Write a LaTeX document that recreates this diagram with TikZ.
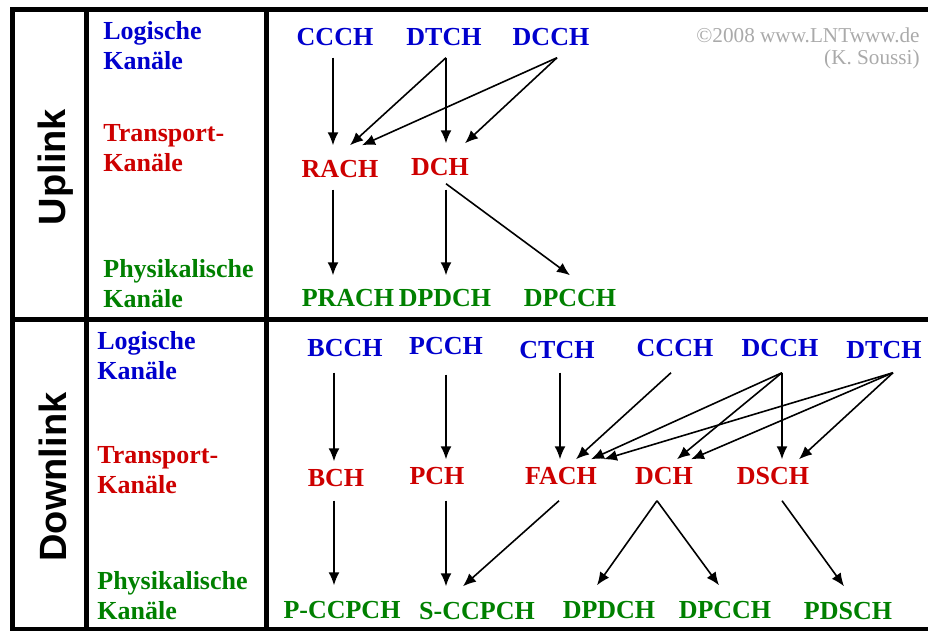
\documentclass[tikz,border=0pt]{standalone}
\usepackage{fontspec}
\setmainfont{Liberation Serif}
\setsansfont{Liberation Sans}
\usetikzlibrary{arrows.meta,calc}
\definecolor{logblue}{RGB}{0,0,205}
\definecolor{trred}{RGB}{205,0,0}
\definecolor{phygreen}{RGB}{0,128,0}
\definecolor{copygray}{RGB}{170,170,170}
\begin{document}
\begin{tikzpicture}[
    x=0.5pt, y=-0.5pt,
    tabline/.style={line width=2.5pt, black},
    arr/.style={-{Latex[length=6.5pt,width=5.5pt]}, line width=0.8pt, black},
    chan/.style={font=\fontsize{13}{15}\selectfont\bfseries, inner xsep=0pt, inner ysep=6pt, outer sep=0pt},
    logch/.style={chan, text=logblue},
    trch/.style={chan, text=trred},
    phych/.style={chan, text=phygreen},
    lbl/.style={font=\fontsize{13}{15}\selectfont\bfseries, align=left, anchor=west, inner sep=0pt},
    side/.style={font=\sffamily\bfseries\fontsize{19}{22}\selectfont, rotate=90, inner sep=0pt}
]
    \useasboundingbox (0,0) rectangle (928,631);
    \draw[tabline] (928,10) -- (12,10) -- (12,629) -- (928,629);
    \draw[tabline] (12,320) -- (928,320);
    \draw[tabline] (86,10) -- (86,629);
    \draw[tabline] (266,10) -- (266,629);

    \node[side] (uplink) at (56,167) {Uplink};
    \node[side] (downlink) at (53,477) {Downlink};

    \node[lbl, text=logblue] (uLog) at (103,46) {Logische\\Kanäle};
    \node[lbl, text=trred] (uTra) at (103,148) {Transport-\\Kanäle};
    \node[lbl, text=phygreen] (uPhy) at (103,284) {Physikalische\\Kanäle};
    \node[lbl, text=logblue] (dLog) at (97,356) {Logische\\Kanäle};
    \node[lbl, text=trred] (dTra) at (97,470) {Transport-\\Kanäle};
    \node[lbl, text=phygreen] (dPhy) at (97,596) {Physikalische\\Kanäle};

    \node[anchor=north east, align=right, inner sep=0pt, text=copygray, font=\fontsize{10.6}{11}\selectfont] (copyright) at (920,27) {©2008 www.LNTwww.de\\(K. Soussi)};

    \node[logch] (uCCCH) at (335,37) {CCCH};
    \node[logch] (uDTCH) at (444,37) {DTCH};
    \node[logch] (uDCCH) at (551,37) {DCCH};
    \node[trch] (uRACH) at (340,169) {RACH};
    \node[trch] (uDCH) at (440,167) {DCH};
    \node[phych] (uPRACH) at (348,298) {PRACH};
    \node[phych] (uDPDCH) at (445,298) {DPDCH};
    \node[phych] (uDPCCH) at (570,298) {DPCCH};

    \node[logch] (dBCCH) at (345,348) {BCCH};
    \node[logch] (dPCCH) at (446,346) {PCCH};
    \node[logch] (dCTCH) at (557,350) {CTCH};
    \node[logch] (dCCCH) at (675,348) {CCCH};
    \node[logch] (dDCCH) at (780,348) {DCCH};
    \node[logch] (dDTCH) at (884,350) {DTCH};
    \node[trch] (dBCH) at (336,478) {BCH};
    \node[trch] (dPCH) at (437,476) {PCH};
    \node[trch] (dFACH) at (561,476) {FACH};
    \node[trch] (dDCH) at (664,476) {DCH};
    \node[trch] (dDSCH) at (773,476) {DSCH};
    \node[phych] (dPCCPCH) at (342,610) {P-CCPCH};
    \node[phych] (dSCCPCH) at (477,611) {S-CCPCH};
    \node[phych] (dDPDCH) at (609,610) {DPDCH};
    \node[phych] (dDPCCH) at (725,610) {DPCCH};
    \node[phych] (dPDSCH) at (848,611) {PDSCH};

    \foreach \s/\sx/\sy/\t/\tx/\ty in {
        uCCCH/-2/0/uRACH/-7/-3, uDTCH/2/0/uRACH/10/-3, uDTCH/2/0/uDCH/6/-3,
        uDCCH/6/0/uRACH/22/-3, uDCCH/6/0/uDCH/25/-3,
        uRACH/-7/0/uPRACH/-15/-2, uDCH/6/2/uDPDCH/1/-2, uDCH/6/-4/uDPCCH/0/-2,
        dBCCH/-11/4/dBCH/-2/4, dPCCH/0/8/dPCH/9/4, dCTCH/3/2/dFACH/-1/4,
        dCCCH/-4/4/dFACH/15/4, dDCCH/2/4/dFACH/30/4, dDCCH/2/4/dDCH/13/4,
        dDCCH/2/4/dDSCH/9/4, dDTCH/9/2/dFACH/43/4, dDTCH/9/2/dDCH/27/4,
        dDTCH/9/2/dDSCH/26/4,
        dBCH/-2/2/dPCCPCH/-8/-4, dPCH/9/4/dSCCPCH/-31/-4, dFACH/-2/4/dSCCPCH/-14/-4,
        dDCH/-7/4/dDPDCH/-12/-4, dDCH/-7/4/dDPCCH/-6/-4, dDSCH/9/4/dPDSCH/-4/-4}
        \draw[arr] ($(\s.south)+(\sx,\sy)$) -- ($(\t.north)+(\tx,\ty)$);
\end{tikzpicture}
\end{document}
